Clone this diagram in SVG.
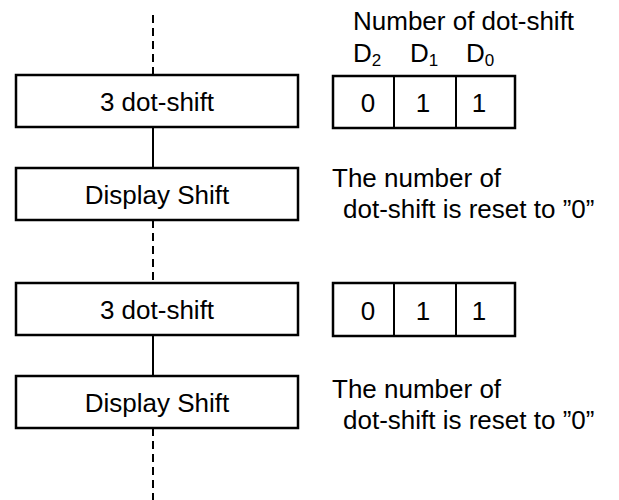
<svg xmlns="http://www.w3.org/2000/svg" width="619" height="500" viewBox="0 0 619 500">
<style>
  .box { fill: #fff; stroke: #000; stroke-width: 2.5; }
  .lbl { font-family: "Liberation Sans", Arial, sans-serif; font-size: 26px; fill: #000; }
  .mid { text-anchor: middle; }
  .solid { stroke: #000; stroke-width: 2; fill: none; }
  .dash { stroke: #000; stroke-width: 2; fill: none; stroke-dasharray: 8 5; }
  .div { stroke: #000; stroke-width: 2; }
</style>
<rect width="619" height="500" fill="#fff"/>
<g id="connectors">
  <line class="dash" x1="153" y1="15" x2="153" y2="75"/>
  <line class="solid" x1="153" y1="127" x2="153" y2="168"/>
  <line class="dash" x1="153" y1="220" x2="153" y2="283"/>
  <line class="solid" x1="153" y1="335" x2="153" y2="376"/>
  <line class="dash" x1="153" y1="428" x2="153" y2="500"/>
</g>
<g id="header">
  <text class="lbl" x="353" y="30">Number of dot-shift</text>
  <text class="lbl" x="353" y="62">D<tspan font-size="17" dy="4">2</tspan></text>
  <text class="lbl" x="410" y="62">D<tspan font-size="17" dy="4">1</tspan></text>
  <text class="lbl" x="466" y="62">D<tspan font-size="17" dy="4">0</tspan></text>
</g>
<g id="node1">
  <rect class="box" x="16" y="75" width="282" height="52"/>
  <text class="lbl mid" x="157" y="111">3 dot-shift</text>
</g>
<g id="bits1">
  <rect class="box" x="333" y="76" width="182" height="52"/>
  <line class="div" x1="394" y1="76" x2="394" y2="128"/>
  <line class="div" x1="456" y1="76" x2="456" y2="128"/>
  <text class="lbl mid" x="368" y="112">0</text>
  <text class="lbl mid" x="423" y="112">1</text>
  <text class="lbl mid" x="479" y="112">1</text>
</g>
<g id="node2">
  <rect class="box" x="16" y="168" width="282" height="52"/>
  <text class="lbl mid" x="157" y="204">Display Shift</text>
</g>
<g id="note1">
  <text class="lbl" x="332" y="187">The number of</text>
  <text class="lbl" x="343" y="218">dot-shift is reset to ”0”</text>
</g>
<g id="node3">
  <rect class="box" x="16" y="283" width="282" height="52"/>
  <text class="lbl mid" x="157" y="319">3 dot-shift</text>
</g>
<g id="bits2">
  <rect class="box" x="333" y="283" width="182" height="53"/>
  <line class="div" x1="394" y1="283" x2="394" y2="336"/>
  <line class="div" x1="456" y1="283" x2="456" y2="336"/>
  <text class="lbl mid" x="368" y="320">0</text>
  <text class="lbl mid" x="423" y="320">1</text>
  <text class="lbl mid" x="479" y="320">1</text>
</g>
<g id="node4">
  <rect class="box" x="16" y="376" width="282" height="52"/>
  <text class="lbl mid" x="157" y="412">Display Shift</text>
</g>
<g id="note2">
  <text class="lbl" x="332" y="398">The number of</text>
  <text class="lbl" x="343" y="429">dot-shift is reset to ”0”</text>
</g>
</svg>
